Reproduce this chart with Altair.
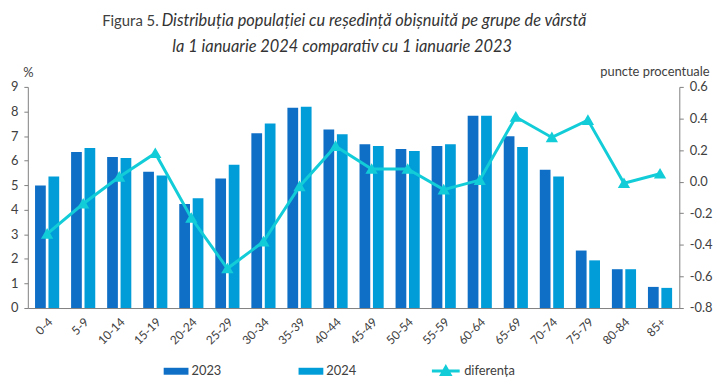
import altair as alt
import pandas as pd

categories = ["0-4", "5-9", "10-14", "15-19", "20-24", "25-29", "30-34", "35-39", "40-44",
              "45-49", "50-54", "55-59", "60-64", "65-69", "70-74", "75-79", "80-84", "85+"]
val_2023 = [4.99, 6.35, 6.15, 5.55, 4.23, 5.27, 7.11, 8.15, 7.27,
            6.67, 6.47, 6.59, 7.83, 6.99, 5.63, 2.34, 1.58, 0.86]
val_2024 = [5.35, 6.51, 6.11, 5.39, 4.47, 5.83, 7.51, 8.19, 7.07,
            6.59, 6.39, 6.67, 7.83, 6.55, 5.35, 1.94, 1.58, 0.82]
diferenta = [-0.33, -0.14, 0.03, 0.18, -0.23, -0.55, -0.38, -0.03, 0.225,
             0.08, 0.08, -0.05, 0.01, 0.41, 0.28, 0.39, -0.01, 0.05]
series_years = ["2023", "2024"]

C23, C24, CL = "#0F6FC6", "#009DD9", "#12CDD8"
TXT = "#404040"
FONT = "Lato"

bars_df = pd.DataFrame({
    "grupa": categories * 2,
    "an": ["2023"] * len(categories) + ["2024"] * len(categories),
    "val": val_2023 + val_2024,
})
line_df = pd.DataFrame({"grupa": categories, "dif": diferenta, "serie": ["diferența"] * len(categories)})

xscale = alt.Scale(domain=categories, paddingInner=0.33, paddingOuter=0.2)
xaxis = alt.Axis(title=None, labelAngle=-45, ticks=False, labelPadding=8, labelFontSize=12,
                 domainColor="#808080", labelColor=TXT, labelFont=FONT)

bars = alt.Chart(bars_df).mark_bar().encode(
    x=alt.X("grupa:N", sort=categories, scale=xscale, axis=xaxis),
    xOffset=alt.XOffset("an:N", scale=alt.Scale(paddingInner=0.2)),
    y=alt.Y("val:Q", scale=alt.Scale(domain=[0, 9], nice=False),
            axis=alt.Axis(values=list(range(10)), title="%", titleAngle=0, titleX=0, titleY=-14,
                          titleAlign="center", titleBaseline="middle", titleFontWeight="normal",
                          titleFontSize=13, titleColor=TXT, titleFont=FONT,
                          grid=False, tickSize=4, labelPadding=6, labelFontSize=13,
                          labelColor=TXT, labelFont=FONT, domainColor="#808080", tickColor="#808080")),
    color=alt.Color("an:N", scale=alt.Scale(domain=series_years, range=[C23, C24]),
                    legend=alt.Legend(title=None, orient="none", legendX=137, legendY=274, padding=0,
                                      direction="horizontal", symbolType="M-1,-0.28H1V0.28H-1Z",
                                      symbolSize=625, symbolStrokeWidth=0, columnPadding=77,
                                      labelFontSize=13, labelColor=TXT, labelFont=FONT, labelOffset=3)),
)

line = alt.Chart(line_df).mark_line(
    strokeWidth=3,
    point=alt.OverlayMarkDef(shape="triangle-up", filled=True, size=80, fill=CL),
).encode(
    x=alt.X("grupa:N", sort=categories, scale=xscale, axis=xaxis),
    y=alt.Y("dif:Q", scale=alt.Scale(domain=[-0.8, 0.6], nice=False),
            axis=alt.Axis(orient="right", values=[-0.8, -0.6, -0.4, -0.2, 0, 0.2, 0.4, 0.6],
                          labelExpr="datum.value < 0 ? '-' + format(-datum.value, '.1f') : format(datum.value, '.1f')",
                          title="puncte procentuale", titleAngle=0, titleX=30, titleY=-15,
                          titleAlign="right", titleBaseline="middle", titleFontWeight="normal",
                          titleFontSize=13, titleColor=TXT, titleFont=FONT,
                          grid=False, tickSize=4, labelPadding=6, labelFontSize=13,
                          labelColor=TXT, labelFont=FONT, domainColor="#808080", tickColor="#808080")),
    stroke=alt.Stroke("serie:N", scale=alt.Scale(domain=["diferența"], range=[CL]),
                      legend=alt.Legend(title=None, orient="none", legendX=406, legendY=271, padding=0,
                                        symbolType="M-1,0H1M-0.3,0.25L0,-0.28L0.3,0.25Z",
                                        symbolSize=784, symbolStrokeWidth=3, symbolFillColor=CL,
                                        labelFontSize=13, labelColor=TXT, labelFont=FONT, labelOffset=3)),
)

t1 = alt.Chart(pd.DataFrame({"t": ["Figura 5."]})).mark_text(
    align="right", baseline="middle", fontSize=15, font=FONT, color=TXT
).encode(text="t:N", x=alt.value(132), y=alt.value(-66))
t2 = alt.Chart(pd.DataFrame({"t": ["Distribuția populației cu reședință obișnuită pe grupe de vârstă"]})).mark_text(
    align="left", baseline="middle", fontSize=16.5, font=FONT, fontStyle="italic", color="#333333"
).encode(text="t:N", x=alt.value(135), y=alt.value(-66))
t3 = alt.Chart(pd.DataFrame({"t": ["la 1 ianuarie  2024 comparativ cu 1 ianuarie 2023"]})).mark_text(
    align="center", baseline="middle", fontSize=16.5, font=FONT, fontStyle="italic", color="#333333"
).encode(text="t:N", x=alt.value(317), y=alt.value(-40))

chart = alt.layer(bars, line, t1, t2, t3).resolve_scale(
    y="independent", color="independent", stroke="independent"
).properties(
    width=657, height=223,
    autosize=alt.AutoSizeParams(type="none"),
    padding={"left": 20, "top": 78, "right": 37, "bottom": 70},
).configure_view(stroke=None)

chart.save("out.html", embed_options={"renderer": "svg", "actions": False})
